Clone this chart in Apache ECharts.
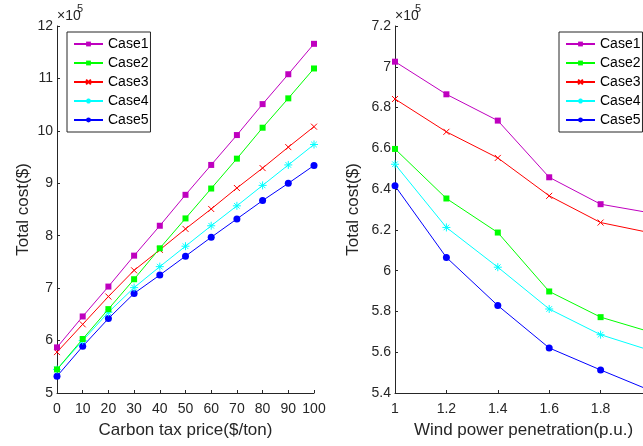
<!DOCTYPE html>
<html><head><meta charset="utf-8">
<script src="https://cdn.jsdelivr.net/npm/echarts@6/dist/echarts.min.js"></script>
<style>html,body{margin:0;padding:0;background:#fff;overflow:hidden}#wrap{width:643px;height:446px;overflow:hidden;position:relative}#c{position:absolute;left:0;top:0;width:652px;height:446px}</style>
</head><body><div id="wrap"><div id="c"></div></div>
<script>
// ---- data ----
const caseNames = ['Case1','Case2','Case3','Case4','Case5'];
const taxPrice = [0,10,20,30,40,50,60,70,80,90,100];
const taxCase1 = [5.87,6.46,7.03,7.62,8.19,8.78,9.35,9.92,10.51,11.08,11.66];
const taxCase2 = [5.45,6.03,6.60,7.17,7.76,8.33,8.90,9.47,10.06,10.62,11.19];
const taxCase3 = [5.78,6.31,6.84,7.34,7.73,8.13,8.51,8.91,9.29,9.69,10.08];
const taxCase4 = [5.45,6.00,6.54,7.01,7.41,7.80,8.19,8.57,8.96,9.35,9.74];
const taxCase5 = [5.32,5.89,6.42,6.90,7.25,7.61,7.97,8.32,8.67,9.00,9.34];
const windPen = [1.0,1.2,1.4,1.6,1.8,2.0];
const windCase1 = [7.025,6.865,6.736,6.458,6.326,6.282];
const windCase2 = [6.597,6.354,6.187,5.898,5.772,5.697];
const windCase3 = [6.842,6.681,6.553,6.367,6.236,6.184];
const windCase4 = [6.522,6.212,6.017,5.812,5.686,5.606];
const windCase5 = [6.416,6.065,5.829,5.621,5.513,5.409];

const taxSeries = [taxCase1,taxCase2,taxCase3,taxCase4,taxCase5];
const windSeries = [windCase1,windCase2,windCase3,windCase4,windCase5];

// ---- styles ----
const FONT = 'Liberation Sans, Arial, sans-serif';
const TXT = '#262626';
const colors = ['#BF00BF','#00FF00','#FF0000','#00FFFF','#0000FF'];
const xPath = 'path://M0,0L10,10M10,0L0,10';
const starPath = 'path://M5,0L5,10M0,5L10,5M1.5,1.5L8.5,8.5M8.5,1.5L1.5,8.5';
const symbols = [
  {symbol:'rect', size:6, stroke:false},
  {symbol:'rect', size:6, stroke:false},
  {symbol:xPath, size:6, stroke:true},
  {symbol:starPath, size:8, stroke:true},
  {symbol:'circle', size:7, stroke:false}
];

function mkSeries(xs, ys, idx, k){
  const s = symbols[k];
  return {
    type:'line', name:caseNames[k], xAxisIndex:idx, yAxisIndex:idx,
    data: xs.map((x,i)=>[x, ys[i]]),
    symbol:s.symbol, symbolSize:s.size, showSymbol:true,
    lineStyle:{color:colors[k], width:1},
    itemStyle: s.stroke ? {color:colors[k], borderColor:colors[k], borderWidth:1} : {color:colors[k], borderWidth:0},
    emphasis:{disabled:true}, animation:false, z: 10-k
  };
}

const series = [];
for(let k=0;k<5;k++) series.push(mkSeries(taxPrice, taxSeries[k], 0, k));
for(let k=0;k<5;k++) series.push(mkSeries(windPen, windSeries[k], 1, k));

const axisCommon = {
  axisLine:{show:true, onZero:false, lineStyle:{color:TXT, width:1}},
  axisTick:{show:true, inside:true, length:3, lineStyle:{color:TXT}},
  splitLine:{show:false},
  axisLabel:{color:TXT, fontFamily:FONT, fontSize:14},
  nameLocation:'middle',
  nameTextStyle:{color:TXT, fontFamily:FONT, fontSize:17}
};

function legendAt(left){
  return {
    left:left, top:32, orient:'vertical',
    data:caseNames,
    itemWidth:29, itemHeight:6, itemGap:3,
    padding:[4,2,4,6],
    borderColor:TXT, borderWidth:1, backgroundColor:'#fff',
    textStyle:{color:'#000', fontFamily:FONT, fontSize:14, lineHeight:16},
    selectedMode:false
  };
}

const option = {
  animation:false,
  backgroundColor:'#fff',
  grid:[
    {left:57, right:338, top:26, bottom:53, containLabel:false, outerBoundsMode:'none'},
    {left:395, right:0, top:26, bottom:53, containLabel:false, outerBoundsMode:'none'}
  ],
  xAxis:[
    Object.assign({}, axisCommon, {type:'value', gridIndex:0, min:0, max:100, interval:10,
      name:'Carbon tax price($/ton)', nameGap:29,
      axisLabel:Object.assign({}, axisCommon.axisLabel, {margin:9})}),
    Object.assign({}, axisCommon, {type:'value', gridIndex:1, min:1, max:2, interval:0.2,
      name:'Wind power penetration(p.u.)', nameGap:29,
      axisLabel:Object.assign({}, axisCommon.axisLabel, {margin:9})})
  ],
  yAxis:[
    Object.assign({}, axisCommon, {type:'value', gridIndex:0, min:5, max:12, interval:1,
      name:'Total cost($)', nameGap:25,
      axisLabel:Object.assign({}, axisCommon.axisLabel, {margin:4})}),
    Object.assign({}, axisCommon, {type:'value', gridIndex:1, min:5.4, max:7.2, interval:0.2,
      name:'Total cost($)', nameGap:33,
      axisLabel:Object.assign({}, axisCommon.axisLabel, {margin:4})})
  ],
  legend:[legendAt(67), legendAt(559)],
  graphic:[
    {type:'text', left:57, top:9, style:{text:'×10', fill:TXT, font:'14px '+FONT}},
    {type:'text', left:77, top:3, style:{text:'5', fill:TXT, font:'11px '+FONT}},
    {type:'text', left:395, top:9, style:{text:'×10', fill:TXT, font:'14px '+FONT}},
    {type:'text', left:415, top:3, style:{text:'5', fill:TXT, font:'11px '+FONT}}
  ],
  series:series
};

const chart = echarts.init(document.getElementById('c'), null, {renderer:'canvas', width:652, height:446});
chart.setOption(option);
</script>
</body></html>
